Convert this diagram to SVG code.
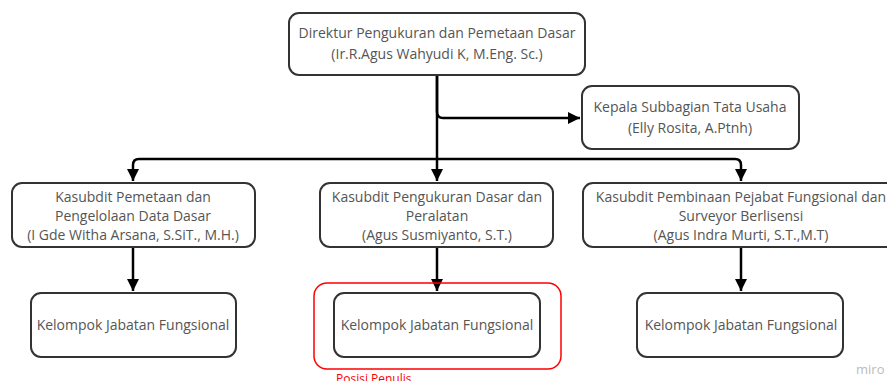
<svg xmlns="http://www.w3.org/2000/svg" width="887" height="381" viewBox="0 0 887 381">
<defs>
<style>
.box{fill:#fff;stroke:#333;stroke-width:2}
.t{font-family:"Open Sans",sans-serif;font-size:14px;fill:#555;text-anchor:middle}
.c{fill:none;stroke:#000;stroke-width:2.5}
</style>
<marker id="ah" viewBox="0 0 10 10" refX="10" refY="5" markerWidth="5" markerHeight="5" markerUnits="strokeWidth" orient="auto">
<path d="M0,0 L10,5 L0,10 z" fill="#000"/>
</marker>
</defs>
<rect width="887" height="381" fill="#fff"/>
<g id="connectors">
<path class="c" d="M437,75 V112 Q437,118 443,118 H580" marker-end="url(#ah)"/>
<path class="c" d="M437,75 V181" marker-end="url(#ah)"/>
<path class="c" d="M437,159 H139 Q133,159 133,165 V181" marker-end="url(#ah)"/>
<path class="c" d="M437,159 H735 Q741,159 741,165 V181" marker-end="url(#ah)"/>
<path class="c" d="M133,247 V291" marker-end="url(#ah)"/>
<path class="c" d="M437,247 V291" marker-end="url(#ah)"/>
<path class="c" d="M741,247 V291" marker-end="url(#ah)"/>
</g>
<g id="direktur">
<rect class="box" x="289" y="13" width="296" height="62" rx="10"/>
<text class="t" x="437" y="38">Direktur Pengukuran dan Pemetaan Dasar</text>
<text class="t" x="437" y="59">(Ir.R.Agus Wahyudi K, M.Eng. Sc.)</text>
</g>
<g id="kepala">
<rect class="box" x="582" y="86" width="217" height="63" rx="10"/>
<text class="t" x="690" y="112">Kepala Subbagian Tata Usaha</text>
<text class="t" x="690" y="133">(Elly Rosita, A.Ptnh)</text>
</g>
<g id="kasubdit1">
<rect class="box" x="12" y="183" width="243" height="64" rx="10"/>
<text class="t" x="133" y="202">Kasubdit Pemetaan dan</text>
<text class="t" x="133" y="221">Pengelolaan Data Dasar</text>
<text class="t" x="133" y="240">(I Gde Witha Arsana, S.SiT., M.H.)</text>
</g>
<g id="kasubdit2">
<rect class="box" x="320" y="183" width="233" height="64" rx="10"/>
<text class="t" x="437" y="202">Kasubdit Pengukuran Dasar dan</text>
<text class="t" x="437" y="221">Peralatan</text>
<text class="t" x="437" y="240">(Agus Susmiyanto, S.T.)</text>
</g>
<g id="kasubdit3">
<rect class="box" x="583" y="183" width="316" height="64" rx="10"/>
<text class="t" x="741" y="202">Kasubdit Pembinaan Pejabat Fungsional dan</text>
<text class="t" x="741" y="221">Surveyor Berlisensi</text>
<text class="t" x="741" y="240">(Agus Indra Murti, S.T.,M.T)</text>
</g>
<g id="kelompok1">
<rect class="box" x="31" y="293" width="205" height="64" rx="10"/>
<text class="t" x="133" y="330">Kelompok Jabatan Fungsional</text>
</g>
<g id="posisi">
<rect x="314" y="283" width="247" height="86" rx="13" fill="none" stroke="#f00" stroke-width="1.5"/>
<text x="336" y="383" font-family="'Open Sans',sans-serif" font-size="12" fill="#f00">Posisi Penulis</text>
</g>
<g id="kelompok2">
<rect class="box" x="334" y="293" width="206" height="64" rx="10"/>
<text class="t" x="437" y="330">Kelompok Jabatan Fungsional</text>
</g>
<g id="kelompok3">
<rect class="box" x="637" y="293" width="206" height="64" rx="10"/>
<text class="t" x="741" y="330">Kelompok Jabatan Fungsional</text>
</g>
<text x="856" y="374" font-family="'Open Sans',sans-serif" font-size="13" fill="#bbb">miro</text>
</svg>
